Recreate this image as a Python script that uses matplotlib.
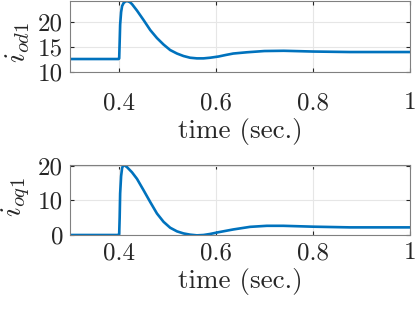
''' corrientes i_od1 e i_oq1 ante un escalón '''
import matplotlib
matplotlib.use('Agg')
import matplotlib.pyplot as plt

# tiempo (s) y corrientes
t_od = [0.3, 0.4, 0.401, 0.402, 0.403, 0.405, 0.407, 0.41, 0.414, 0.418, 0.423,
        0.4274, 0.4377, 0.4513, 0.465, 0.4788, 0.4924, 0.506, 0.52, 0.5335,
        0.547, 0.561, 0.5746, 0.5884, 0.6055, 0.62, 0.636, 0.664, 0.7, 0.74,
        0.8, 0.876, 1.0]
i_od = [12.6, 12.6, 12.7, 16.0, 19.5, 22.0, 23.2, 23.8, 24.15, 24.2, 24.0,
        23.6, 22.3, 20.4, 18.4, 16.8, 15.5, 14.4, 13.7, 13.2,
        12.86, 12.73, 12.73, 12.86, 13.1, 13.4, 13.7, 13.95, 14.2, 14.25,
        14.1, 14.0, 14.0]

t_oq = [0.3, 0.4, 0.401, 0.402, 0.403, 0.405, 0.407, 0.409, 0.412, 0.417,
        0.4274, 0.4377, 0.4513, 0.465, 0.4788, 0.4924, 0.506, 0.52, 0.5335,
        0.547, 0.561, 0.5746, 0.5884, 0.6055, 0.636, 0.6706, 0.705, 0.739,
        0.8, 0.876, 1.0]
i_oq = [0.0, 0.0, 0.2, 5.0, 12.0, 17.0, 19.3, 20.0, 20.1, 19.6,
        18.1, 16.2, 12.9, 9.5, 6.2, 3.8, 2.1, 1.05, 0.45,
        0.1, -0.1, 0.0, 0.3, 0.8, 1.6, 2.35, 2.65, 2.65,
        2.4, 2.2, 2.2]

x_ticks = [0.4, 0.6, 0.8, 1.0]
x_labels = ['0.4', '0.6', '0.8', '1']

plt.rcParams['font.family'] = 'cmr10'
plt.rcParams['mathtext.fontset'] = 'cm'
plt.rcParams['axes.unicode_minus'] = False

AZUL = '#0072BD'
GRIS = '#262626'


def panel(ax, t, y, ylim, yticks, ylabel, xpad, ylab_y):
    ax.plot(t, y, color=AZUL, lw=1.9)
    ax.set_xlim(0.3, 1.0)
    ax.set_ylim(*ylim)
    ax.set_xticks(x_ticks)
    ax.set_xticklabels(x_labels)
    ax.set_yticks(yticks)
    ax.grid(True, color='#e6e6e6', lw=0.8)
    ax.set_axisbelow(True)
    ax.tick_params(direction='in', length=3, width=0.8, colors=GRIS, labelsize=18,
                   top=True, right=True, pad=5)
    ax.tick_params(axis='x', pad=xpad)
    for s in ax.spines.values():
        s.set_color('#808080')
        s.set_linewidth(0.8)
    ax.set_xlabel('time (sec.)', fontsize=19.5, color=GRIS, labelpad=3)
    ax.set_ylabel(ylabel, fontsize=21, color=GRIS)
    ax.yaxis.set_label_coords(-0.112, ylab_y)


fig = plt.figure(figsize=(4.15, 3.09), dpi=100)
ax1 = fig.add_axes([0.169, 0.767, 0.819, 0.231])
ax2 = fig.add_axes([0.169, 0.2395, 0.819, 0.2265])

panel(ax1, t_od, i_od, (10, 24.3), [10, 15, 20], r'$i_{od1}$', 14.5, 0.41)
panel(ax2, t_oq, i_oq, (0, 20.2), [0, 10, 20], r'$i_{oq1}$', 5, 0.543)

fig.savefig('out.png', dpi=100)
